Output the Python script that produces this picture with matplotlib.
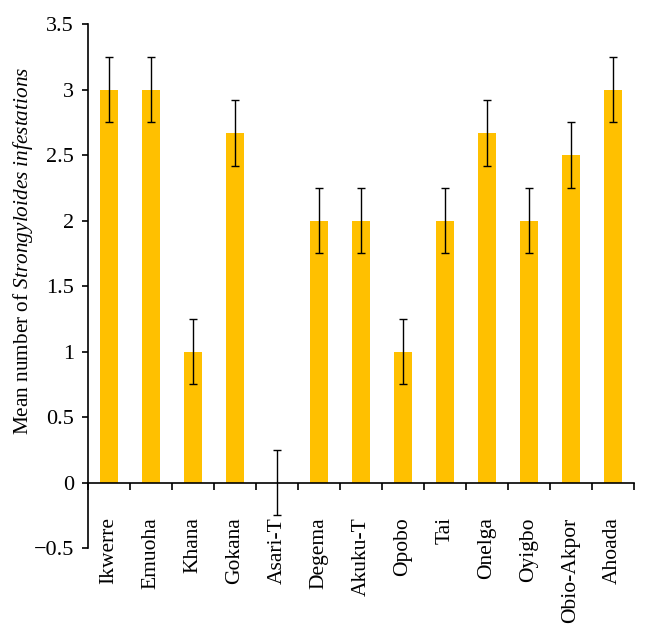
import matplotlib
matplotlib.use("Agg")
import matplotlib.pyplot as plt
import numpy as np

categories = ["Ikwerre", "Emuoha", "Khana", "Gokana", "Asari-T", "Degema", "Akuku-T",
              "Opobo", "Tai", "Onelga", "Oyigbo", "Obio-Akpor", "Ahoada"]
means = [3, 3, 1, 2.67, 0, 2, 2, 1, 2, 2.67, 2, 2.5, 3]
errors = [0.25, 0.25, 0.25, 0.25, 0.25, 0.25, 0.25, 0.25, 0.25, 0.25, 0.25, 0.25, 0.25]
yticks = [-0.5, 0, 0.5, 1, 1.5, 2, 2.5, 3, 3.5]
ytick_labels = ["\u22120.5", "0", "0.5", "1", "1.5", "2", "2.5", "3", "3.5"]

plt.rcParams["font.family"] = ["Liberation Serif", "DejaVu Serif"]
plt.rcParams["mathtext.fontset"] = "custom"
plt.rcParams["mathtext.rm"] = "Liberation Serif"
plt.rcParams["mathtext.it"] = "Liberation Serif:italic"

fig = plt.figure(figsize=(6.46, 6.39), dpi=100)
ax = fig.add_axes([0.136, 0.1424, 0.845, 0.8196])

x = np.arange(len(categories))
ax.bar(x, means, width=0.42, color="#FFC000", zorder=1)
ax.errorbar(x, means, yerr=errors, fmt="none", ecolor="black", elinewidth=1.0,
            capsize=3, capthick=1.0, zorder=3)

ax.set_xlim(-0.5, len(categories) - 0.5)
ax.set_ylim(-0.5, 3.5)
ax.set_yticks(yticks)
ax.set_yticklabels(ytick_labels, fontsize=16)

for s in ["top", "right"]:
    ax.spines[s].set_visible(False)
ax.spines["bottom"].set_position(("data", 0))
ax.spines["bottom"].set_linewidth(1.2)
ax.spines["bottom"].set_zorder(2)
ax.spines["left"].set_linewidth(1.2)

ax.set_xticks(x)
ax.set_xticklabels(categories, rotation=90, fontsize=15.5)
ax.set_xticks(np.arange(len(categories) + 1) - 0.5, minor=True)
ax.tick_params(axis="x", which="major", length=0, pad=25)
ax.tick_params(axis="x", which="minor", length=5, width=1.2, direction="out")
ax.tick_params(axis="y", length=4, width=1.2, pad=6, direction="out")

ax.set_ylabel(r"Mean number of $\mathit{Strongyloides\ infestations}$", fontsize=15.3)
ax.yaxis.set_label_coords(-0.097, 0.567)

fig.savefig("out.png", dpi=100)
